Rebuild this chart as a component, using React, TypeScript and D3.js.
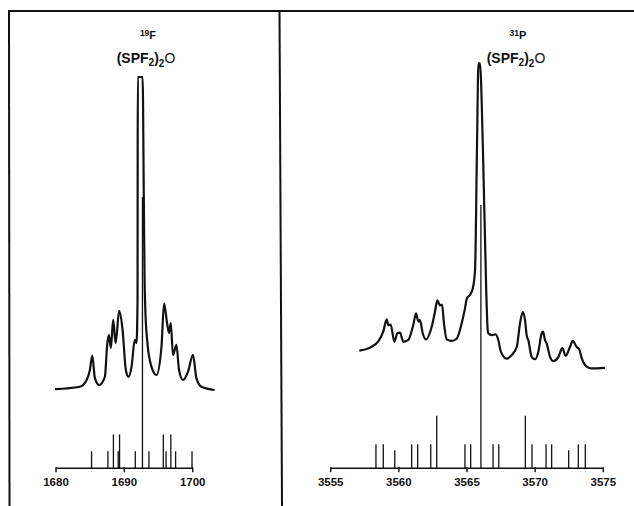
import React from "react";
import * as d3 from "d3";

// ---------- Data ----------
// 19F spectrum trace: [frequency Hz, relative intensity]
const fSpectrum: [number, number][] = [
  [1679.85, 0.3], [1683.5, 1.05], [1684.48, 3.2], [1684.96, 6.4], [1685.3, 11.0],
  [1685.69, 3.8], [1686.32, 1.6], [1687.15, 4.2], [1687.49, 14.4], [1687.74, 17.6],
  [1688.03, 13.4], [1688.36, 22.4], [1688.72, 15.0], [1689.24, 25.3], [1689.74, 19.2],
  [1690.22, 6.4], [1690.61, 4.2], [1691.05, 7.4], [1691.53, 16.0], [1691.78, 15.0],
  [1691.93, 28.8], [1691.95, 76.7], [1691.97, 100], [1692.67, 100], [1692.85, 60.7],
  [1692.96, 35.1], [1693.07, 25.6], [1693.33, 16.0], [1693.97, 7.4], [1694.7, 4.8],
  [1695.43, 13.8], [1695.81, 27.7], [1696.25, 21.4], [1696.54, 18.2], [1696.79, 21.4],
  [1697.12, 11.2], [1697.62, 14.4], [1698.0, 6.4], [1698.58, 3.2], [1699.31, 5.8],
  [1700.04, 11.2], [1700.54, 3.8], [1701.27, 1.05], [1703.21, 0],
];
// 19F computed line positions: [Hz, relative intensity]
const fSticks: [number, number][] = [
  [1685.2, 1], [1687.6, 1], [1688.4, 2], [1689.1, 1], [1689.3, 2], [1691.6, 1],
  [1692.65, 16], [1693.6, 1], [1695.7, 2], [1696.1, 1], [1696.8, 2], [1697.5, 1], [1699.9, 1],
];
const fTicks = [1680, 1690, 1700];

// 31P spectrum trace
const pSpectrum: [number, number][] = [
  [3557.1, 6.3], [3557.88, 7.3], [3558.49, 9.3], [3558.86, 12.6], [3559.11, 16.5],
  [3559.23, 14.6], [3559.4, 14.8], [3559.67, 9.2], [3559.89, 12.0], [3560.08, 12.2],
  [3560.33, 9.2], [3560.69, 9.8], [3561.06, 14.7], [3561.26, 18.5], [3561.43, 15.8],
  [3561.55, 16.3], [3561.75, 12.0], [3561.99, 10.0], [3562.41, 14.1], [3562.65, 19.0],
  [3562.82, 22.7], [3563.02, 21.1], [3563.17, 21.3], [3563.31, 15.2], [3563.51, 10.0],
  [3563.88, 9.5], [3564.24, 10.2], [3564.61, 15.2], [3564.85, 20.0], [3564.98, 23.2],
  [3565.22, 24.5], [3565.42, 26.5], [3565.59, 32.6], [3565.73, 71.7], [3565.84, 100],
  [3565.95, 100], [3566.17, 71.7], [3566.41, 26.1], [3566.52, 13.0], [3566.56, 12.0],
  [3566.81, 11.4], [3567.11, 11.6], [3567.3, 9.7], [3567.49, 5.9], [3567.91, 3.7],
  [3568.28, 4.9], [3568.65, 7.5], [3568.89, 15.2], [3569.09, 18.9], [3569.26, 16.2],
  [3569.38, 11.3], [3569.5, 9.7], [3569.75, 4.2], [3569.99, 3.5], [3570.23, 5.9],
  [3570.48, 12.0], [3570.58, 12.5], [3570.72, 9.8], [3570.85, 8.6], [3571.09, 4.3],
  [3571.33, 2.9], [3571.7, 4.2], [3571.99, 7.1], [3572.24, 4.6], [3572.56, 7.6],
  [3572.76, 9.5], [3573.05, 7.5], [3573.22, 6.9], [3573.42, 3.8], [3573.78, 1.1],
  [3574.15, 0.5], [3575.12, 0.7],
];
// 31P computed line positions
const pSticks: [number, number][] = [
  [3558.32, 1], [3558.86, 1], [3559.7, 0.75], [3560.94, 1], [3561.38, 1], [3562.34, 1],
  [3562.78, 2.2], [3564.85, 1], [3565.27, 1], [3566.02, 11], [3566.91, 1], [3567.33, 1],
  [3569.28, 2.2], [3569.77, 1], [3570.8, 1], [3571.21, 1], [3572.46, 0.75], [3573.17, 1],
  [3573.68, 1],
];
const pTicks = [3555, 3560, 3565, 3570, 3575];

// ---------- Scales ----------
const fx = d3.scaleLinear().domain([1680, 1700]).range([56, 192.7]);
const fySpec = d3.scaleLinear().domain([0, 100]).range([390, 77]);
const fyStick = d3.scaleLinear().domain([0, 16]).range([468.3, 197]);

const px = d3.scaleLinear().domain([3555, 3575]).range([330.7, 603.3]);
const pySpec = d3.scaleLinear().domain([0, 100]).range([370, 63.3]);
const pyStick = d3.scaleLinear().domain([0, 11]).range([468.3, 205]);

const labelFont = "'Liberation Sans', Arial, sans-serif";

function Panel({
  x, ySpec, yStick, spectrum, sticks, ticks,
}: {
  x: d3.ScaleLinear<number, number>;
  ySpec: d3.ScaleLinear<number, number>;
  yStick: d3.ScaleLinear<number, number>;
  spectrum: [number, number][];
  sticks: [number, number][];
  ticks: number[];
}) {
  const line = d3
    .line<[number, number]>()
    .x((d) => x(d[0]))
    .y((d) => ySpec(d[1]))
    .curve(d3.curveMonotoneX);
  const [d0, d1] = x.domain();
  const y0 = yStick(0);
  return (
    <g>
      <path d={line(spectrum) || ""} fill="none" stroke="#111" strokeWidth={2.2} strokeLinejoin="round" />
      {sticks.map(([hz, v], i) => (
        <line key={i} x1={x(hz)} x2={x(hz)} y1={y0} y2={yStick(v)} stroke="#111" strokeWidth={1.3} />
      ))}
      <line x1={x(d0)} x2={x(d1)} y1={y0} y2={y0} stroke="#111" strokeWidth={1.6} />
      {ticks.map((t) => (
        <g key={t}>
          <line x1={x(t)} x2={x(t)} y1={y0 - 1} y2={y0 + 4} stroke="#111" strokeWidth={1.4} />
          <text
            x={x(t)}
            y={y0 + 18}
            textAnchor="middle"
            fontFamily={labelFont}
            fontSize={11.5}
            fontWeight="bold"
            fill="#111"
          >
            {t}
          </text>
        </g>
      ))}
    </g>
  );
}

function Title({ cx, y, mass, element }: { cx: number; y: number; mass: string; element: string }) {
  return (
    <g fontFamily={labelFont} fontWeight="bold" fill="#111">
      <text x={cx} y={y} textAnchor="middle" fontSize={11}>
        <tspan fontSize={8.5} dy={-3}>{mass}</tspan>
        <tspan dy={3}>{element}</tspan>
      </text>
      <text x={cx - 2} y={y + 24} textAnchor="middle" fontSize={14}>
        (SPF<tspan fontSize={10} dy={3}>2</tspan>
        <tspan dy={-3}>)</tspan>
        <tspan fontSize={10} dy={4}>2</tspan>
        <tspan dy={-4} fontWeight="normal">O</tspan>
      </text>
    </g>
  );
}

export default function App() {
  return (
    <svg
      width={634}
      height={506}
      viewBox="0 0 634 506"
      style={{ position: "absolute", left: 0, top: 0, background: "#fff" }}
    >
      <rect x={0} y={0} width={634} height={506} fill="#fff" />
      {/* frame */}
      <line x1={8} x2={634} y1={11} y2={11} stroke="#111" strokeWidth={2.2} />
      <line x1={9} x2={9.5} y1={10} y2={506} stroke="#111" strokeWidth={2} />
      <line x1={279.5} x2={282} y1={10} y2={506} stroke="#111" strokeWidth={2} />

      <Title cx={148} y={39} mass="19" element="F" />
      <Title cx={518} y={39} mass="31" element="P" />

      <Panel x={fx} ySpec={fySpec} yStick={fyStick} spectrum={fSpectrum} sticks={fSticks} ticks={fTicks} />
      <Panel x={px} ySpec={pySpec} yStick={pyStick} spectrum={pSpectrum} sticks={pSticks} ticks={pTicks} />
    </svg>
  );
}
